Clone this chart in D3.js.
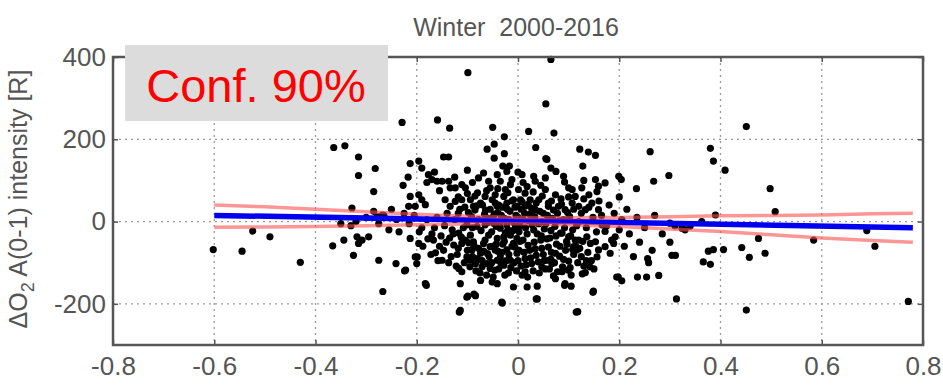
<!DOCTYPE html>
<html><head><meta charset="utf-8">
<script src="https://cdn.jsdelivr.net/npm/d3@7"></script>
<style>body{margin:0;background:#fff}svg{display:block}</style>
</head><body>
<script>
const titleText = "Winter  2000-2016";
const yLabelMain = "ΔO";
const yLabelSub = "2";
const yLabelRest = " A(0-1) intensity [R]";
const confText = "Conf. 90%";
const xTicks = [-0.8,-0.6,-0.4,-0.2,0,0.2,0.4,0.6,0.8];
const yTicks = [-200,0,200,400];
const xGrid = [-0.6,-0.4,-0.2,0,0.2,0.4,0.6];
const yGrid = [-200,0,200];
const fitX = [-0.6, 0.78];
const fitY = [15, -15];
const bandX = [-0.6,-0.5,-0.4,-0.3,-0.2,-0.1,0,0.1,0.2,0.3,0.4,0.5,0.6,0.7,0.78];
const bandUpper = [40,36,30,24,18,13,10,9,10,12,14,15,16,19,20];
const bandLower = [-14,-13,-12,-10,-8,-6,-5,-8,-12,-18,-24,-32,-40,-46,-50];
const points = [
[-0.602,-68],[-0.545,-72],[-0.524,-23],[-0.49,-37],[-0.43,-99],[-0.366,-59],[-0.344,-45],[-0.325,-82],[-0.318,-37],[-0.315,-53],[-0.308,-45],[-0.295,-37],[-0.328,33],[-0.275,-94],[-0.267,-170],[-0.285,73],[-0.278,12],[-0.268,16],
[-0.364,180],[-0.342,184],[-0.315,157],[-0.315,112],[-0.282,129],
[-0.229,241],[-0.099,362],[0.065,394],[0.055,286],[-0.159,247],[-0.135,227],[-0.05,229],[-0.027,206],[0.021,219],[0.071,215],[0.035,180],[0.122,176],[0.139,169],[0.153,161],[0.261,170],[0.268,98],[0.298,112],[0.199,110],[-0.213,141],[-0.196,147],[-0.227,88],[-0.217,108],[-0.147,157],[-0.137,157],[-0.061,176],[-0.047,188],[-0.047,154],[-0.027,165],[0.055,153],[0.128,135],[0.234,80],
[0.451,231],[0.38,178],[0.386,147],[0.409,125],[0.498,80],[0.3,-4],[0.324,-16],[0.34,-11],[0.363,0],[0.39,16],[0.475,-41],[0.508,24],[0.584,-45],[0.689,-22],[0.705,-60],[0.771,-194],[0.311,-82],[0.313,-188],[0.366,-98],[0.38,-104],[0.376,-72],[0.386,-68],[0.406,-68],[0.442,-63],[0.457,-87],[0.488,-77],[0.451,-215],
[-0.241,-102],[-0.224,-120],[-0.181,-155],[-0.199,-86],[-0.116,-220],[-0.099,-181],[-0.087,-176],[-0.031,-198],[0.036,-188],[0.115,-220],[0.148,-172],[0.092,-155],[0.127,-127],[0.198,-135],[0.236,-135],[0.254,-135],[0.278,-131],[0.256,-90],[0.304,-82],
[-0.177,114],[-0.17,102],[-0.16,98],[-0.15,98],[-0.137,98],[-0.134,82],[-0.124,82],[-0.111,90],[-0.104,82],[-0.078,106],[-0.058,98],[-0.055,82],[-0.041,114],[-0.035,98],[-0.022,122],[-0.025,78],[-0.012,102],[-0.213,61],[-0.196,65],[-0.19,53],[-0.216,37],[-0.203,37],[-0.183,41],[-0.144,53],[-0.134,37],[-0.124,49],[-0.111,53],[-0.094,53],[-0.088,37],[-0.074,45],[-0.065,61],[-0.051,53],[-0.041,37],[-0.028,61],[-0.022,45],[-0.009,53],[-0.017,135],
[-0.213,-41],[-0.196,-53],[-0.203,-86],[-0.2,-102],[-0.222,-118],[-0.167,-45],[-0.163,-76],[-0.183,-151],[-0.15,-94],[-0.137,-100],[-0.127,-57],[-0.13,-20],[-0.117,-28],[-0.111,-53],[-0.104,-45],[-0.094,-33],[-0.117,-114],[-0.111,-122],[-0.114,-151],[-0.101,-86],[-0.094,-94],[-0.084,-102],[-0.091,-69],[-0.074,-77],[-0.071,-110],[-0.061,-102],[-0.055,-114],[-0.041,-94],[-0.045,-69],[-0.055,-61],[-0.035,-86],[-0.028,-106],[-0.022,-69],[-0.015,-94],[-0.009,-53],[-0.002,-77],[-0.074,-143],[-0.051,-147],[-0.041,-151],[-0.101,-184],[-0.084,-180],[-0.032,-196],[-0.114,-216],[-0.009,-159],[-0.101,-8],[-0.081,-12],[-0.065,-8],[-0.048,-4],[-0.035,-16],[-0.022,-8],[-0.005,-12],[-0.058,-33],[-0.041,-41],[-0.028,-37],[-0.015,-33],[-0.088,-49],[-0.068,-53],[-0.002,-41],
[0.008,114],[0.031,110],[0.054,106],[0.034,98],[0.092,96],[0.153,102],[0.159,86],[0.172,94],[0.156,73],[0.204,102],[0.2,60],[0.054,78],[0.074,65],[0.107,78],[0.126,82],[0.113,61],[0.001,78],[0.014,69],[0.005,53],[0.024,53],[0.041,53],[-0.002,37],[0.014,37],[0.034,29],[0.06,37],[0.08,37],[0.093,29],[0.107,45],[0.12,37],[0.133,29],[0.146,45],[0.159,29],[0.057,151],[0.075,122],
[0.014,-122],[0.018,-159],[0.038,-157],[0.038,-188],[0.074,-139],[0.087,-122],[0.099,-118],[0.093,-151],[0.105,-157],[0.133,-124],[0.149,-169],[0.118,-219],[0.11,-61],[0.116,-69],[0.136,-37],[0.143,-53],[0.153,-49],[0.159,-69],[0.156,-86],[0.172,-61],[0.182,-77],[0.189,-53],[0.195,-135],[0.205,-144],[0.172,-24],[0.192,-37],[0.166,-8],[0.087,-28],[0.1,-37],[0.12,-45],[0.074,-77],[0.06,-94],[0.047,-110],[0.067,-102],
[-0.118,20],[-0.105,35],[-0.092,12],[-0.085,28],[-0.078,5],[-0.07,40],[-0.066,18],[-0.06,-2],[-0.055,30],[-0.05,10],[-0.045,45],[-0.04,22],[-0.036,-5],[-0.03,35],[-0.027,8],[-0.02,-20],[-0.016,25],[-0.012,50],[-0.008,-2],[-0.004,15],[0.002,-25],[0.006,30],[0.01,5],[0.015,-15],[0.02,42],[0.024,18],[0.028,-8],[0.033,12],[0.038,-30],[0.043,25],[0.048,0],[0.052,-18],[0.058,15],[0.063,-40],[0.068,8],[0.073,-12],[0.078,20],[0.084,-28],[0.09,5],[0.096,-48],[0.102,12],[0.108,-20],[0.114,-60],[0.12,0],
[-0.1,-70],[-0.095,-110],[-0.087,-58],[-0.08,-90],[-0.075,-125],[-0.068,-72],[-0.062,-130],[-0.057,-85],[-0.05,-60],[-0.046,-118],[-0.04,-72],[-0.034,-100],[-0.03,-55],[-0.026,-130],[-0.018,-80],[-0.014,-112],[-0.006,-62],[0.0,-95],[0.004,-48],[0.008,-130],[0.012,-75],[0.016,-105],[0.02,-58],[0.025,-88],[0.03,-120],[0.034,-66],[0.04,-98],[0.045,-45],[0.05,-80],[0.054,-115],[0.06,-62],[0.065,-92],[0.07,-132],[0.076,-55],[0.082,-84],[0.088,-110],[0.094,-70],[0.1,-96],[0.105,-130],[0.11,-80],[0.118,-100],[0.125,-85],[0.13,-108],[0.138,-75],[0.145,-95],[0.15,-115],
[-0.19,-15],[-0.18,5],[-0.17,-30],[-0.16,10],[-0.155,-60],[-0.145,-10],[-0.14,20],[-0.135,-40],[-0.125,5],[-0.12,-80],[-0.115,30],[-0.108,-15],
[0.125,20],[0.13,55],[0.135,-15],[0.14,35],[0.148,10],[0.155,-25],[0.16,50],[0.165,15],[0.175,-10],[0.18,40],[0.185,-45],[0.19,20],[0.2,-20],[0.205,5],[0.21,-60],[0.215,30],[0.22,-30],[0.228,-85],[0.235,10],[0.24,-50],[0.25,-15],[0.258,-100],[0.265,-70],[0.27,15],[0.285,-30],[0.3,-50],[0.31,-10],[0.33,-20],
[-0.3,10],[-0.285,25],[-0.275,-5],[-0.265,15],[-0.255,-20],[-0.25,30],[-0.24,5],[-0.235,-25],[-0.225,20],[-0.215,-5],[-0.205,15],[-0.32,0],[-0.33,-10],[-0.35,-5],
[-0.19,130],[-0.18,95],[-0.165,120],[-0.155,75],[-0.125,108],[-0.1,125],[-0.09,95],[-0.08,70],[-0.068,118],[-0.04,80],[-0.03,135],[-0.015,90],[0.0,120],[0.01,95],[0.045,88],[0.065,130],[0.09,110],[0.1,60],[0.13,100],[0.14,65],
[-0.098,22],[-0.09,-15],[-0.082,38],[-0.073,-22],[-0.064,28],[-0.058,8],[-0.052,-25],[-0.047,18],[-0.043,-12],[-0.038,40],[-0.033,15],[-0.025,-28],[-0.021,30],[-0.018,5],[-0.01,-22],[-0.006,35],[0.0,10],[0.004,-10],[0.008,48],[0.013,20],[0.018,-30],[0.022,2],[0.027,32],[0.031,-20],[0.036,45],[0.041,-5],[0.046,-35],[0.05,20],[0.055,-5],[0.06,45],[0.065,-22],[0.07,28],[0.075,-35],[0.081,2],[0.086,42],[0.092,-15],[0.098,22],[0.104,-35],[0.11,30],[0.116,-10],
[-0.097,-52],[-0.09,-85],[-0.083,-120],[-0.078,-65],[-0.071,-95],[-0.065,-45],[-0.06,-78],[-0.052,-100],[-0.049,-135],[-0.043,-55],[-0.038,-115],[-0.032,-75],[-0.027,-48],[-0.023,-95],[-0.019,-125],[-0.012,-60],[-0.008,-100],[-0.003,-120],[0.002,-70],[0.006,-108],[0.01,-45],[0.014,-90],[0.019,-135],[0.023,-70],[0.027,-102],[0.032,-50],[0.036,-82],[0.042,-125],[0.047,-65],[0.052,-95],[0.057,-42],[0.062,-115],[0.066,-75],[0.072,-100],[0.078,-122],[0.083,-60],[0.09,-92],[0.097,-55],[0.103,-112],[0.108,-68],[0.113,-45],[0.122,-65],[0.128,-48],[0.135,-95],[0.142,-110],
[-0.195,-25],[-0.188,-60],[-0.178,-42],[-0.172,-80],[-0.165,-15],[-0.158,-95],[-0.152,-35],[-0.147,-70],[-0.142,-50],[-0.132,-85],[-0.128,-30],[-0.122,-108],[-0.118,-65],[-0.112,-38],[-0.106,-100],
[-0.085,62],[-0.062,75],[-0.045,65],[-0.02,70],[0.018,85],[0.03,72],[0.048,62],[0.066,50],[0.085,55],[0.1,82],[-0.1,68],[-0.118,60]
];

const W = 943, H = 386;
const L = 113, R = 923, T = 57, B = 345;
const svg = d3.select("body").append("svg").attr("width", W).attr("height", H);
const x = d3.scaleLinear().domain([-0.8, 0.8]).range([L, R]);
const y = d3.scaleLinear().domain([-300, 400]).range([B, T]);
const font = "'Liberation Sans', Arial, sans-serif";
const grey = "#555";
const loc = d3.formatLocale({decimal: ".", thousands: ",", grouping: [3], currency: ["", ""], minus: "-"});

// grid
svg.append("g").selectAll("line").data(xGrid).join("line")
  .attr("x1", d => x(d)).attr("x2", d => x(d)).attr("y1", T).attr("y2", B)
  .attr("stroke", "#999").attr("stroke-width", 1.3).attr("stroke-dasharray", "2,4");
svg.append("g").selectAll("line").data(yGrid).join("line")
  .attr("y1", d => y(d)).attr("y2", d => y(d)).attr("x1", L).attr("x2", R)
  .attr("stroke", "#999").attr("stroke-width", 1.3).attr("stroke-dasharray", "2,4");

// points
svg.append("g").selectAll("circle").data(points).join("circle")
  .attr("cx", d => x(d[0])).attr("cy", d => y(d[1])).attr("r", 3.6).attr("fill", "#000");

// fit line
const line = d3.line().x(d => x(d[0])).y(d => y(d[1]));
svg.append("path").datum(fitX.map((v, i) => [v, fitY[i]])).attr("d", line)
  .attr("stroke", "#0000ee").attr("stroke-width", 5.5).attr("fill", "none");
svg.append("path").datum(bandX.map((v, i) => [v, bandUpper[i]])).attr("d", line)
  .attr("stroke", "#ff5050").attr("stroke-opacity", 0.6).attr("stroke-width", 3.5).attr("fill", "none");
svg.append("path").datum(bandX.map((v, i) => [v, bandLower[i]])).attr("d", line)
  .attr("stroke", "#ff5050").attr("stroke-opacity", 0.6).attr("stroke-width", 3.5).attr("fill", "none");

// axes
const xAxB = svg.append("g").attr("transform", `translate(0,${B})`)
  .call(d3.axisBottom(x).tickValues(xTicks).tickSize(-5).tickFormat(d => d === 0 ? "0" : loc.format(".1f")(d)));
const xAxT = svg.append("g").attr("transform", `translate(0,${T})`)
  .call(d3.axisTop(x).tickValues(xTicks).tickSize(-5).tickFormat(""));
const yAxL = svg.append("g").attr("transform", `translate(${L},0)`)
  .call(d3.axisLeft(y).tickValues(yTicks).tickSize(-5).tickFormat(loc.format("d")));
const yAxR = svg.append("g").attr("transform", `translate(${R},0)`)
  .call(d3.axisRight(y).tickValues(yTicks).tickSize(-5).tickFormat(""));
[xAxB, xAxT, yAxL, yAxR].forEach(g => {
  g.select(".domain").remove();
  g.selectAll(".tick line").attr("stroke", grey).attr("stroke-width", 1.5);
  g.selectAll("text").attr("fill", grey).style("font-family", font).style("font-size", "26px");
});
xAxB.selectAll("text").attr("dy", "0.71em").attr("y", 12);
yAxL.selectAll("text").attr("x", -7);
svg.append("rect").attr("x", L).attr("y", T).attr("width", R - L).attr("height", B - T)
  .attr("fill", "none").attr("stroke", grey).attr("stroke-width", 2.5);

// title
svg.append("text").attr("x", 516).attr("y", 36).attr("text-anchor", "middle")
  .attr("fill", grey).style("font-family", font).style("font-size", "25px")
  .style("white-space", "pre").text(titleText);

// y label
const yl = svg.append("text").attr("transform", "translate(27,199) rotate(-90)")
  .attr("text-anchor", "middle").attr("fill", grey)
  .style("font-family", font).style("font-size", "25px");
yl.append("tspan").text(yLabelMain);
yl.append("tspan").attr("dy", 7).style("font-size", "18px").text(yLabelSub);
yl.append("tspan").attr("dy", -7).text(yLabelRest);

// conf box
svg.append("rect").attr("x", 125).attr("y", 45).attr("width", 263).attr("height", 76).attr("fill", "#dcdcdc");
svg.append("text").attr("x", 256).attr("y", 102).attr("text-anchor", "middle")
  .attr("fill", "#ff0000").style("font-family", font).style("font-size", "47px").text(confText);
</script>
</body></html>
